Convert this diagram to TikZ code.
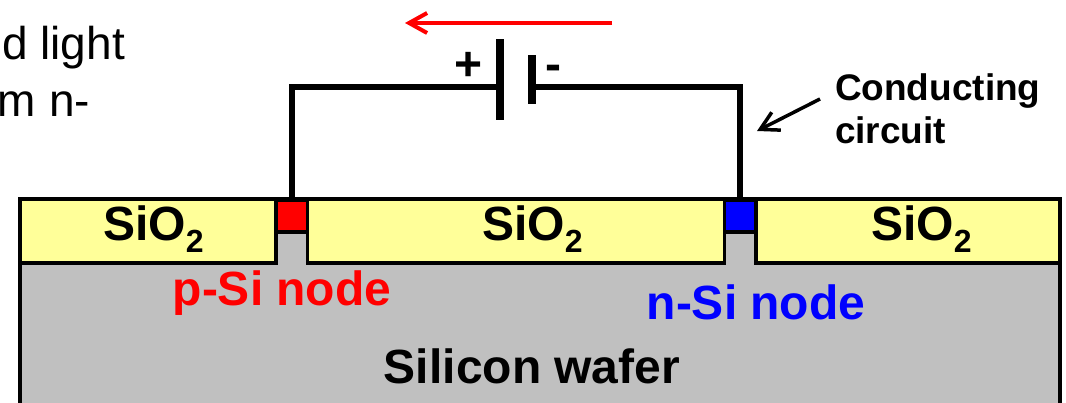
\documentclass[tikz,border=0pt]{standalone}
\usepackage{fontspec}
\setmainfont{Liberation Sans}
\usetikzlibrary{
arrows.meta,
positioning
}
\definecolor{oxideyellow}{HTML}{FFFF99}
\definecolor{wafergray}{HTML}{C0C0C0}
\newcommand{\fsize}[1]{\fontsize{#1}{#1}\selectfont}
\newcommand{\siotwo}{SiO\raisebox{-12pt}{\fsize{32}2}}

\begin{document}
\begin{tikzpicture}[
        x=1pt, y=-1pt,
        every node/.style={inner sep=0pt, outer sep=0pt, align=center},
        oxide/.style={draw=black, line width=3.5pt, fill=oxideyellow, minimum height=64pt},
        contact/.style={draw=black, line width=3.5pt, minimum width=31pt, minimum height=32pt},
        plate/.style={fill=black, minimum width=8pt},
        wire/.style={line width=5.5pt},
        biglabel/.style={font=\fsize{48}\bfseries, anchor=base}
    ]
        \useasboundingbox (0,0) rectangle (1066,403);
        \clip (0,0) rectangle (1066,403);
        \fill[white] (0,0) rectangle (1066,403);

        \node[font=\fsize{46}, anchor=base east] (introa) at (125,60) {d light};
        \node[font=\fsize{46}, anchor=base east] (introb) at (90,117) {m n-};

        % wafer and oxide
        \node[draw=black, line width=3.5pt, fill=wafergray, minimum width=1040pt, minimum height=260pt, anchor=north west] (wafer) at (20,199) {};
        \node[oxide, minimum width=256pt] (oxidea) at (148,231) {};
        \node[oxide, minimum width=417pt] (oxideb) at (516,231) {};
        \node[oxide, minimum width=304pt] (oxidec) at (908,231) {};
        \node[biglabel] (sioa) at (153.5,241) {\siotwo};
        \node[biglabel] (siob) at (532.5,241) {\siotwo};
        \node[biglabel] (sioc) at (921.5,241) {\siotwo};
        \node[contact, fill=red] (pcontact) at (292,216) {};
        \node[contact, fill=blue] (ncontact) at (740,216) {};

        \node[biglabel, red] (plabel) at (282,306) {p-Si node};
        \node[biglabel, blue] (nlabel) at (756,320) {n-Si node};
        \node[biglabel] (waferlabel) at (532,384) {Silicon wafer};

        % battery
        \node[plate, minimum height=81pt] (plusplate) at (500,79.5) {};
        \node[plate, minimum height=49pt] (minusplate) at (532,79.5) {};
        \coordinate (plusend) at (500,87);
        \coordinate (minusend) at (532,87);
        \draw[wire] (pcontact.north) |- (plusend);
        \draw[wire] (minusend) -| (ncontact.north);
        \node[font=\fsize{48}\bfseries, anchor=base] (plus) at (469,81) {+};
        \node[font=\fsize{48}\bfseries, anchor=base] (minus) at (553,81) {-};

        % current direction
        \coordinate (currentstart) at (612,23);
        \coordinate (currentend) at (405,23);
        \draw[-{Straight Barb[length=18pt, width=20pt, line width=4pt]}, red, line width=4pt] (currentstart) -- (currentend);

        % circuit label
        \node[font=\fsize{37}\bfseries, align=left, anchor=base west] (circuit) at (835,144) {Conducting\\[6pt]circuit};
        \coordinate (circuitstart) at (820,99);
        \coordinate (circuitend) at (757,131);
        \draw[-{Straight Barb[length=18pt, width=20pt, line width=3.5pt]}, line width=3.5pt] (circuitstart) -- (circuitend);
    \end{tikzpicture}
\end{document}
